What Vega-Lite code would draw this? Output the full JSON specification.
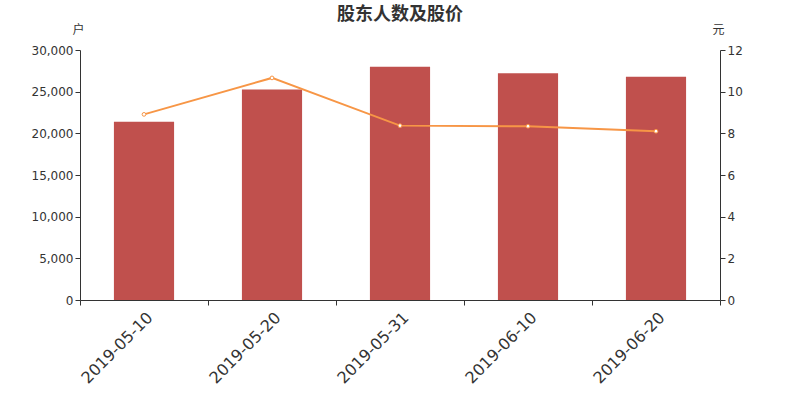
{
  "$schema": "https://vega.github.io/schema/vega-lite/v6.json",
  "autosize": {"type": "none"},
  "padding": {"left": 80, "top": 50, "right": 80, "bottom": 100},
  "width": 640,
  "height": 250,
  "background": "white",
  "title": {"text": "股东人数及股价", "fontSize": 18, "fontWeight": "bold", "color": "#333333", "frame": "group", "anchor": "middle", "offset": -1, "font": "Noto Sans CJK SC"},
  "config": {"view": {"stroke": null}, "font": "DejaVu Sans"},
  "data": {"values": [
    {"date": "2019-05-10", "holders": 21380, "price": 8.91},
    {"date": "2019-05-20", "holders": 25260, "price": 10.66},
    {"date": "2019-05-31", "holders": 27980, "price": 8.37},
    {"date": "2019-06-10", "holders": 27200, "price": 8.34},
    {"date": "2019-06-20", "holders": 26780, "price": 8.10}
  ]},
  "encoding": {
    "x": {"field": "date", "type": "nominal", "sort": null, "title": null,
      "scale": {"paddingInner": 0, "paddingOuter": 0},
      "axis": {"labelAngle": -45, "labelFontSize": 16, "labelColor": "#333333", "tickBand": "extent", "domainColor": "#333333", "tickColor": "#333333", "tickSize": 5, "labelPadding": 4, "labelDy": -6, "grid": false}}
  },
  "layer": [
    {
      "mark": {"type": "bar", "color": "#c0504d", "width": {"band": 0.47}},
      "encoding": {
        "y": {"field": "holders", "type": "quantitative", "scale": {"domain": [0, 30000]},
          "axis": {"title": "户", "titleAngle": 0, "titleX": -2, "titleY": -14, "titleFontSize": 12, "titleFontWeight": "normal", "titleColor": "#333333", "titleFont": "Noto Sans CJK SC", "titleAlign": "center", "values": [0, 5000, 10000, 15000, 20000, 25000, 30000], "labelExpr": "format(datum.value, ',')", "labelOverlap": false, "labelFontSize": 12, "labelColor": "#333333", "domainColor": "#333333", "tickColor": "#333333", "tickSize": 5, "grid": false}}
      }
    },
    {
      "mark": {"type": "line", "color": "#f79646", "strokeWidth": 2, "point": {"filled": true, "fill": "white", "stroke": "#f79646", "strokeWidth": 1, "size": 14}},
      "encoding": {
        "y": {"field": "price", "type": "quantitative", "scale": {"domain": [0, 12]},
          "axis": {"orient": "right", "title": "元", "titleAngle": 0, "titleX": -2, "titleY": -14, "titleFontSize": 12, "titleFontWeight": "normal", "titleColor": "#333333", "titleFont": "Noto Sans CJK SC", "titleAlign": "center", "values": [0, 2, 4, 6, 8, 10, 12], "labelOverlap": false, "labelFontSize": 12, "labelColor": "#333333", "domainColor": "#333333", "tickColor": "#333333", "tickSize": 5, "grid": false}}
      }
    }
  ],
  "resolve": {"scale": {"y": "independent"}}
}
